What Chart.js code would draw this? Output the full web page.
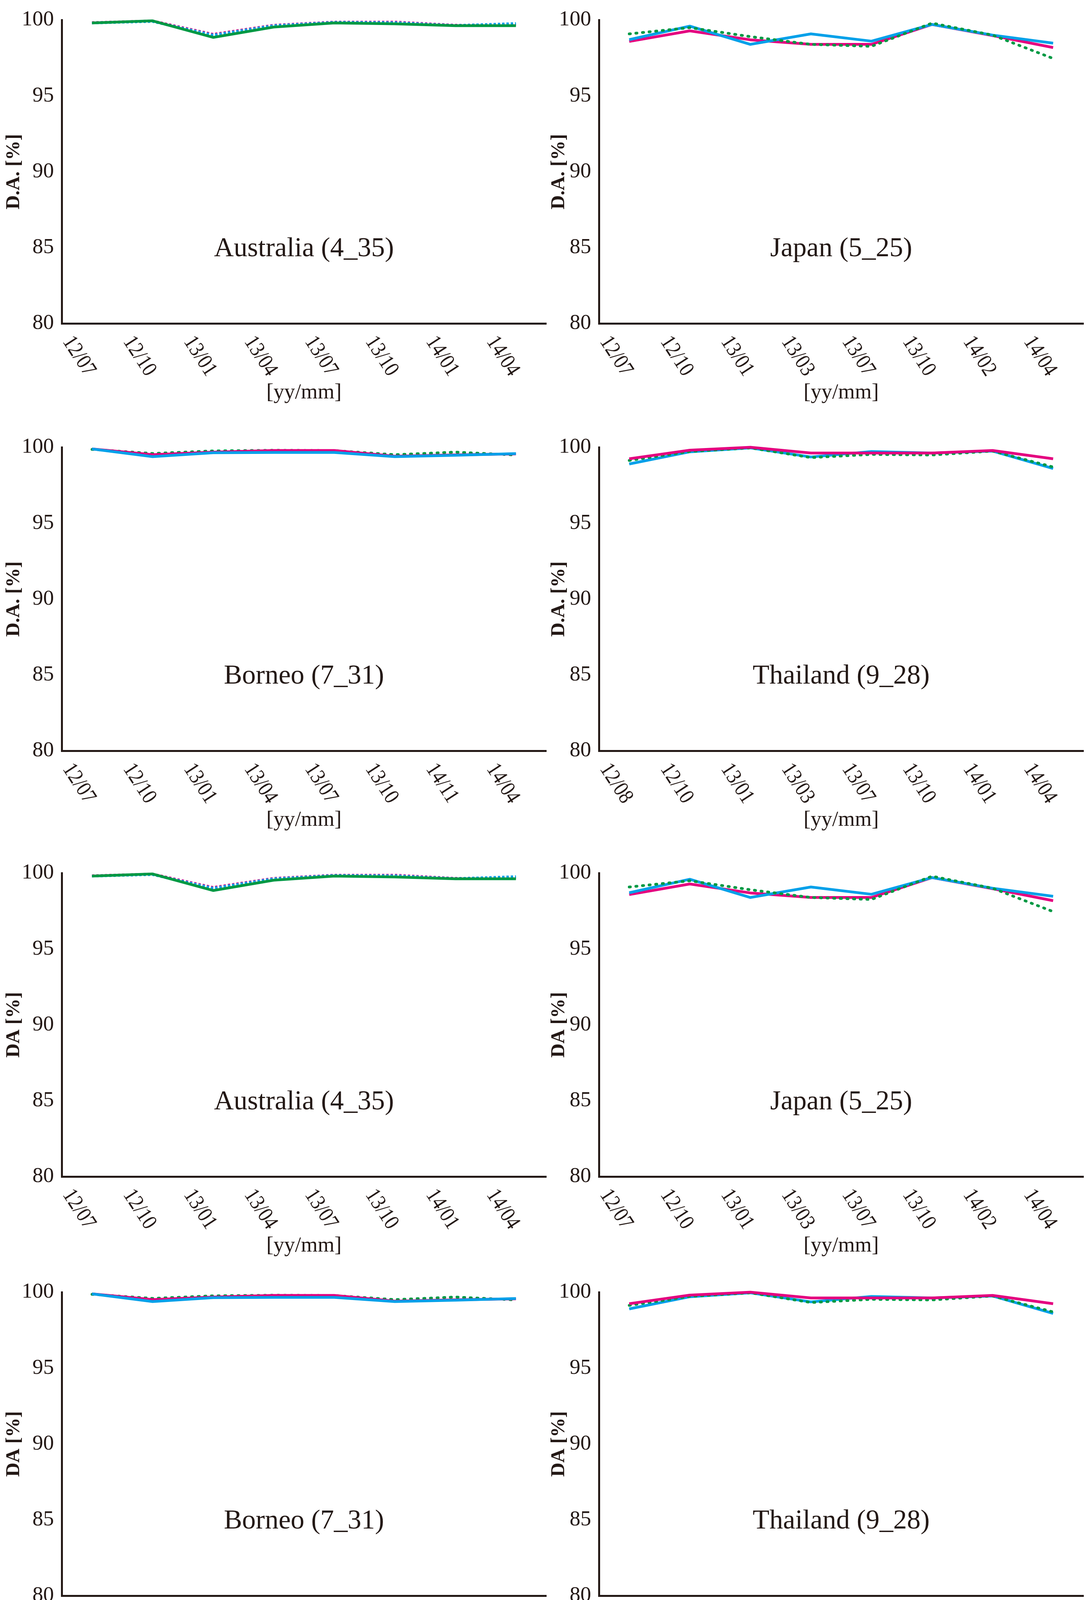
<!DOCTYPE html>
<html><head><meta charset="utf-8">
<script src="https://cdn.jsdelivr.net/npm/chart.js@4.4.1/dist/chart.umd.min.js"></script>
<style>
html,body{margin:0;padding:0;background:#fff;}
body{width:2795px;height:5371px;position:relative;overflow:hidden;}
canvas{position:absolute;}
</style></head><body>
<script>
// ---- tick labels ----
const labelsAustralia = ['12/07','12/10','13/01','13/04','13/07','13/10','14/01','14/04'];
const labelsJapan     = ['12/07','12/10','13/01','13/03','13/07','13/10','14/02','14/04'];
const labelsBorneo    = ['12/07','12/10','13/01','13/04','13/07','13/10','14/11','14/04'];
const labelsThai28    = ['12/08','12/10','13/01','13/03','13/07','13/10','14/01','14/04'];
const labelsThai29    = ['12/07','12/10','13/01','13/03','13/07','13/10','14/12','14/04'];
const labelsMongolia  = ['12/07','12/10','13/01','13/04','13/07','13/10','14/01','14/04'];
const yTicks = [80, 85, 90, 95, 100];

// ---- series values (DA %) ----
const auMagenta = [99.82, 99.93, 99.05, 99.65, 99.86, 99.86, 99.65, 99.68];
const auCyan    = [99.80, 99.90, 99.00, 99.62, 99.84, 99.82, 99.63, 99.76];
const auGreen   = [99.80, 99.94, 98.85, 99.53, 99.80, 99.74, 99.62, 99.62];

const jpMagenta = [98.58, 99.28, 98.69, 98.39, 98.39, 99.70, 98.97, 98.18];
const jpCyan    = [98.70, 99.59, 98.39, 99.08, 98.60, 99.70, 99.00, 98.47];
const jpGreen   = [99.08, 99.49, 98.90, 98.39, 98.26, 99.79, 99.00, 97.46];

const boMagenta = [99.89, 99.51, 99.68, 99.79, 99.79, 99.41, 99.50, 99.56];
const boCyan    = [99.89, 99.38, 99.64, 99.66, 99.66, 99.38, 99.47, 99.58];
const boGreen   = [99.86, 99.59, 99.76, 99.80, 99.78, 99.51, 99.68, 99.49];

const t28Magenta = [99.24, 99.81, 100.0, 99.62, 99.62, 99.62, 99.79, 99.24];
const t28Cyan    = [98.90, 99.70, 99.96, 99.36, 99.72, 99.62, 99.75, 98.60];
const t28Green   = [99.13, 99.72, 99.96, 99.32, 99.53, 99.49, 99.75, 98.70];

const t29Magenta = [98.60, 96.67, 99.42, 99.81, 99.34, 97.02, 99.73, 99.51];
const t29Cyan    = [null,  98.70, 99.51, 99.51, 98.89, 98.09, 99.68, 99.30];
const t29Green   = [null,  96.37, 99.72, 99.55, 99.08, 97.92, 99.79, 99.61];

const mnMagenta = [98.34, 98.43, 96.58, 92.30, 99.47, 98.87, 95.07, 98.24];
const mnCyan    = [98.65, 98.55, 95.16, 97.61, 99.58, 98.68, 93.14, 98.24];
const mnGreen   = [98.34, 99.18, 95.41, 91.89, 99.47, 98.89, 94.53, 96.13];

// ---- styling ----
const MAG = '#E4007F', CYA = '#00A0E9', GRN = '#009944', INK = '#231815';
const SERIF = '"Liberation Serif", "Times New Roman", serif';

function ds(data, color, kind, width, order) {
  let dash = [];
  if (kind === 'dot') dash = [3, 14];
  if (kind === 'dash') dash = [6, 5];
  return {
    data, borderColor: color, backgroundColor: color, borderWidth: width,
    borderDash: dash, borderCapStyle: kind === 'dot' ? 'round' : 'butt',
    borderJoinStyle: 'round', pointRadius: 0, pointHoverRadius: 0,
    tension: 0, fill: false, clip: false, order, spanGaps: false
  };
}

const decor = {
  id: 'decor',
  afterDraw(chart, args, opts) {
    const ctx = chart.ctx, a = chart.chartArea, xs = chart.scales.x, ys = chart.scales.y;
    ctx.save();
    ctx.fillStyle = INK;
    ctx.font = '56px ' + SERIF;
    ctx.textAlign = 'left';
    ctx.textBaseline = 'middle';
    chart.data.labels.forEach((lab, i) => {
      const px = xs.getPixelForValue(i);
      ctx.save();
      ctx.translate(px - 64, a.bottom + 38);
      ctx.rotate(57 * Math.PI / 180);
      ctx.scale(0.86, 1);
      ctx.fillText(lab, 0, 0);
      ctx.restore();
    });
    ctx.textAlign = 'center';
    ctx.font = '55px ' + SERIF;
    ctx.fillText('[yy/mm]', (a.left + a.right) / 2, a.bottom + 178);
    ctx.font = '70px ' + SERIF;
    ctx.fillText(opts.title, (a.left + a.right) / 2, ys.getPixelForValue(84.9));
    ctx.restore();
  }
};

const CW = 1400, CH = 1040, TOPPAD = 50;
const rowTops = [48, 1142, 2232, 3305, 4374];
const colLefts = [0, 1395];
const axisXs = [158, 138];

function makePanel(col, row, title, yTitle, labels, datasets) {
  const c = document.createElement('canvas');
  c.width = CW; c.height = CH;
  c.style.left = colLefts[col] + 'px';
  c.style.top = (rowTops[row] - TOPPAD) + 'px';
  c.style.width = CW + 'px'; c.style.height = CH + 'px';
  document.body.appendChild(c);
  const axisX = axisXs[col];
  new Chart(c, {
    type: 'line',
    data: { labels, datasets },
    plugins: [decor],
    options: {
      responsive: false, animation: false, devicePixelRatio: 1,
      events: [],
      layout: { padding: { top: TOPPAD, left: 0, bottom: 0, right: CW - axisX - 1240 } },
      plugins: { legend: { display: false }, tooltip: { enabled: false }, decor: { title } },
      scales: {
        x: {
          type: 'category', offset: true,
          grid: { display: false, drawTicks: false },
          border: { display: true, color: INK, width: 5 },
          ticks: { display: false },
          afterFit: s => { s.height = CH - TOPPAD - 780; }
        },
        y: {
          min: 80, max: 100,
          afterBuildTicks: s => { s.ticks = yTicks.map(v => ({ value: v })); },
          grid: { display: false, drawTicks: false },
          border: { display: true, color: INK, width: 5 },
          ticks: { color: INK, padding: 20, font: { family: SERIF, size: 55 } },
          title: { display: true, text: yTitle, color: INK, padding: { top: 6, bottom: 0 },
                   font: { family: SERIF, size: 50, weight: 'bold' } },
          afterFit: s => { s.width = axisX; }
        }
      }
    }
  });
}

const W = 7, W2 = 5;
function auSets() { return [ds(auGreen, GRN, 'solid', W, 0), ds(auCyan, CYA, 'dash', W, 1), ds(auMagenta, MAG, 'dash', W, 2)]; }
function jpSets() { return [ds(jpGreen, GRN, 'dot', W, 0), ds(jpCyan, CYA, 'solid', W, 1), ds(jpMagenta, MAG, 'solid', W, 2)]; }
function boSets() { return [ds(boGreen, GRN, 'dot', W, 2), ds(boCyan, CYA, 'solid', W, 0), ds(boMagenta, MAG, 'solid', W, 1)]; }
function t28Sets() { return [ds(t28Green, GRN, 'dot', W, 1), ds(t28Cyan, CYA, 'solid', W, 2), ds(t28Magenta, MAG, 'solid', W, 0)]; }

makePanel(0, 0, 'Australia (4_35)', 'D.A. [%]', labelsAustralia, auSets());
makePanel(1, 0, 'Japan (5_25)', 'D.A. [%]', labelsJapan, jpSets());
makePanel(0, 1, 'Borneo (7_31)', 'D.A. [%]', labelsBorneo, boSets());
makePanel(1, 1, 'Thailand (9_28)', 'D.A. [%]', labelsThai28, t28Sets());
makePanel(0, 2, 'Australia (4_35)', 'DA [%]', labelsAustralia, auSets());
makePanel(1, 2, 'Japan (5_25)', 'DA [%]', labelsJapan, jpSets());
makePanel(0, 3, 'Borneo (7_31)', 'DA [%]', labelsBorneo, boSets());
makePanel(1, 3, 'Thailand (9_28)', 'DA [%]', labelsThai28, t28Sets());
makePanel(0, 4, 'Thailand (9_29)', 'DA [%]', labelsThai29,
  [ds(t29Green, GRN, 'dot', W2, 1), ds(t29Cyan, CYA, 'solid', W2, 2), ds(t29Magenta, MAG, 'solid', W2, 0)]);
makePanel(1, 4, 'Mongolia (10_23)', 'DA [%]', labelsMongolia,
  [ds(mnGreen, GRN, 'dot', W2, 0), ds(mnCyan, CYA, 'solid', W2, 1), ds(mnMagenta, MAG, 'solid', W2, 2)]);
</script>
</body></html>
